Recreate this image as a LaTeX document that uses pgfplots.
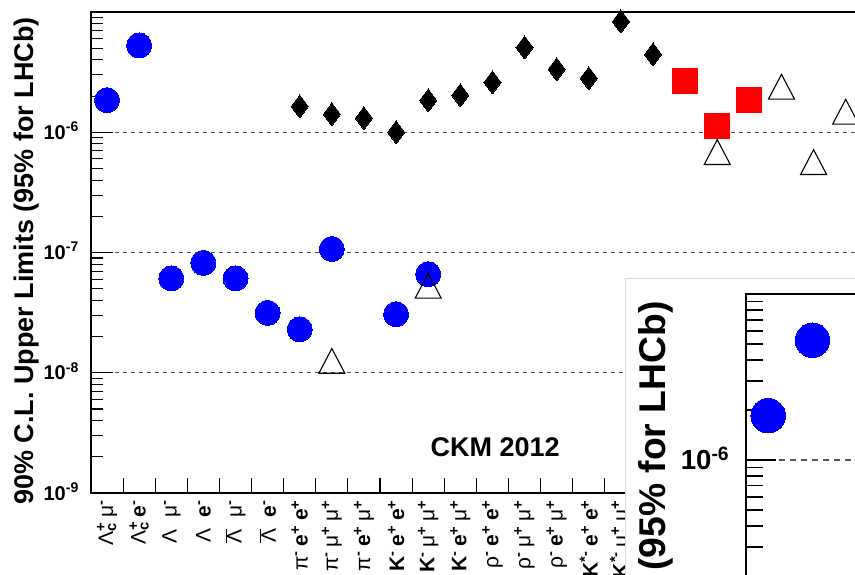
\documentclass[border=0pt]{standalone}
\usepackage{pgfplots}
\pgfplotsset{compat=1.18}
\usepackage{fontspec}
\setmainfont{Liberation Sans}
\newcommand{\fs}[1]{\fontsize{#1}{#1}\selectfont}
\newcommand{\up}[1]{\textsuperscript{#1}\kern0.22em}
\newcommand{\E}[1]{\textsuperscript{#1}}
\newcommand{\G}[1]{{\mdseries #1}}
\newcommand{\gap}{\hspace{0.55em}}
\newcommand{\ud}[2]{\makebox[0pt][l]{\textsuperscript{#1}}\textsubscript{#2}\kern0.22em}
\definecolor{rblue}{RGB}{0,0,255}
\definecolor{rred}{RGB}{255,0,0}
\definecolor{gridc}{RGB}{85,85,85}

\newcommand{\chart}[3]{%
 \pgfmathsetmacro\s{#1}%
 \pgfmathsetlengthmacro\W{835*\s}%
 \pgfmathsetlengthmacro\H{481*\s}%
 \pgfmathsetlengthmacro\TF{20*\s}%
 \pgfmathsetlengthmacro\LF{27*\s}%
 \pgfmathsetlengthmacro\XF{21*\s}%
 \pgfmathsetlengthmacro\MC{12.5*\s}%
 \pgfmathsetlengthmacro\MD{11.5*\s}%
 \pgfmathsetlengthmacro\MS{12.5*\s}%
 \pgfmathsetlengthmacro\MT{15*\s}%
 \pgfmathsetlengthmacro\LW{1.4*\s}%
 \pgfmathsetlengthmacro\TW{1.1*\s}%
 \pgfmathsetlengthmacro\MajL{22*\s}%
 \pgfmathsetlengthmacro\MinL{12*\s}%
 \pgfmathsetlengthmacro\XTL{15*\s}%
 \pgfmathsetlengthmacro\YSH{12*\s}%
 \pgfmathsetlengthmacro\XSH{7*\s}%
 \pgfmathsetlengthmacro\DA{4*\s}%
 \pgfmathsetlengthmacro\YLS{7*\s}%
 \begin{axis}[
   at={(#2pt,#3pt)}, anchor=south west,
   scale only axis, width=\W, height=\H,
   ymode=log, ymin=1e-9, ymax=1e-5,
   xmin=-0.5, xmax=25.5,
   clip=false,
   axis line style={line width=\LW, black},
   tick align=inside,
   xtick pos=lower, ytick pos=left,
   major tick length=\MajL, minor tick length=\MinL,
   every tick/.style={black, line width=\TW},
   ytick={1e-9,1e-8,1e-7,1e-6},
   yticklabels={10\textsuperscript{-9},10\textsuperscript{-8},10\textsuperscript{-7},10\textsuperscript{-6}},
   minor ytick={2e-9,3e-9,4e-9,5e-9,6e-9,7e-9,8e-9,9e-9,
                2e-8,3e-8,4e-8,5e-8,6e-8,7e-8,8e-8,9e-8,
                2e-7,3e-7,4e-7,5e-7,6e-7,7e-7,8e-7,9e-7,
                2e-6,3e-6,4e-6,5e-6,6e-6,7e-6,8e-6,9e-6},
   yticklabel style={font=\bfseries\fs{\TF}, inner sep=0pt, anchor=base east, yshift=-\YLS},
   yticklabel shift=\YSH,
   xtick={0,...,25},
   major x tick style={draw=none},
   minor xtick={0.5,1.5,...,24.5},
   minor x tick style={/pgfplots/minor tick length=\XTL},
   xticklabels={
     {\G{Λ}\ud{+}{c}\G{μ}\E{-}},
     {\G{Λ}\ud{+}{c}e\E{-}},
     {\G{Λ}\gap\G{μ}\E{-}},
     {\G{Λ}\gap e\E{-}},
     {$\overline{\mbox{\G{Λ}}}$\gap\G{μ}\E{-}},
     {$\overline{\mbox{\G{Λ}}}$\gap e\E{-}},
     {\G{π}\up{-}e\up{+}e\E{+}},
     {\G{π}\up{-}\G{μ}\up{+}\G{μ}\E{+}},
     {\G{π}\up{-}e\up{+}\G{μ}\E{+}},
     {K\up{-}e\up{+}e\E{+}},
     {K\up{-}\G{μ}\up{+}\G{μ}\E{+}},
     {K\up{-}e\up{+}\G{μ}\E{+}},
     {\G{ρ}\up{-}e\up{+}e\E{+}},
     {\G{ρ}\up{-}\G{μ}\up{+}\G{μ}\E{+}},
     {\G{ρ}\up{-}e\up{+}\G{μ}\E{+}},
     {K\up{*-}e\up{+}e\E{+}},
     {K\up{*-}\G{μ}\up{+}\G{μ}\E{+}},
     {K\up{*-}e\up{+}\G{μ}\E{+}},
     {D\up{-}e\up{+}e\E{+}},
     {D\up{-}\G{μ}\up{+}\G{μ}\E{+}},
     {D\up{-}e\up{+}\G{μ}\E{+}},
     {D\ud{-}{s}e\up{+}e\E{+}},
     {D\ud{-}{s}\G{μ}\up{+}\G{μ}\E{+}},
     {D\ud{-}{s}e\up{+}\G{μ}\E{+}},
     {}, {}},
   xticklabel style={font=\bfseries\fs{\XF}, inner sep=0pt, rotate=90, anchor=east},
   xticklabel shift=\XSH,
   ymajorgrids,
   major grid style={gridc, line width=\TW, dash pattern=on \DA off \DA},
   ylabel={90\% C.L. Upper Limits (95\% for LHCb)},
   ylabel style={font=\bfseries\fs{\LF}, at={(axis description cs:-0.0778,0.482)}, anchor=center},
 ]
 \addplot[only marks, mark=*, mark size=\MC, mark options={draw=rblue, fill=rblue, line width=0pt}]
   coordinates {(0,1.85e-6) (1,5.27e-6) (2,6.1e-8) (3,8.2e-8) (4,6.1e-8) (5,3.15e-8)
                (6,2.3e-8) (7,1.07e-7) (9,3.07e-8) (10,6.6e-8)};
 \addplot[only marks, mark=diamond*, mark size=\MD, mark options={draw=black, fill=black, line width=0pt}]
   coordinates {(6,1.64e-6) (7,1.41e-6) (8,1.31e-6) (9,1.0e-6) (10,1.84e-6) (11,2.03e-6)
                (12,2.6e-6) (13,5.07e-6) (14,3.34e-6) (15,2.81e-6) (16,8.34e-6) (17,4.44e-6)};
 \addplot[only marks, mark=square*, mark size=\MS, mark options={draw=rred, fill=rred, line width=0pt}]
   coordinates {(18,2.65e-6) (19,1.12e-6) (20,1.84e-6)};
 \addplot[only marks, mark=triangle, mark size=\MT, mark options={draw=black, line width=\TW, yscale=1.1}]
   coordinates {(7,1.16e-8) (10,4.89e-8) (19,6.32e-7) (21,2.21e-6) (22,5.22e-7) (23,1.37e-6)};
 \node[font=\bfseries\fs{\LF}, anchor=center] at (axis description cs:0.484,0.0956) {CKM 2012};
 \end{axis}%
}

\begin{document}
\begin{tikzpicture}
\useasboundingbox (0,0) rectangle (855pt,-575pt);
\clip (0,0) rectangle (855pt,-575pt);
\chart{1}{91}{-493}
\begin{scope}
\clip (625pt,-278pt) rectangle (856pt,-576pt);
\fill[white] (625pt,-278pt) rectangle (856pt,-576pt);
\chart{1.38}{746}{-957.8}
\end{scope}
\draw[black!15, line width=1pt] (625pt,-576pt) -- (625pt,-278pt) -- (856pt,-278pt);
\end{tikzpicture}
\end{document}
